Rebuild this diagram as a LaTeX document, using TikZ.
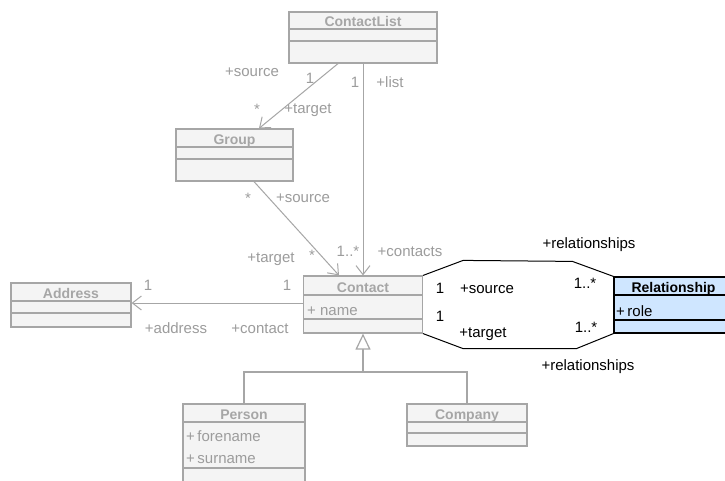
\documentclass[tikz,border=0pt]{standalone}
\usepackage{fontspec}
\setmainfont{Liberation Sans}
\usetikzlibrary{arrows.meta,positioning,calc}
\definecolor{boxfill}{HTML}{F4F4F4}
\definecolor{boxline}{HTML}{A6A6A6}
\definecolor{dimtext}{HTML}{9C9C9C}
\definecolor{relfill}{HTML}{CFE6FF}
\newcommand{\lblfont}{\fontsize{15}{18}\selectfont}
\newcommand{\ttlfont}{\fontsize{14}{16}\selectfont\bfseries}

\begin{document}
\begin{tikzpicture}[x=1pt,y=-1pt,
  classbox/.style={draw=boxline,fill=boxfill,line width=1.2pt,inner sep=0pt},
  sepline/.style={boxline,line width=1.2pt},
  classname/.style={font=\ttlfont,text=boxline,anchor=base,inner sep=0pt},
  attr/.style={font=\lblfont,text=dimtext,anchor=base west,inner sep=0pt},
  lbl/.style={font=\lblfont,text=dimtext,anchor=base,inner sep=0pt},
  blbl/.style={font=\lblfont,text=black,anchor=base,inner sep=0pt},
  assoc/.style={boxline,line width=1pt,-{Straight Barb[length=9pt,width=14pt]}},
  genline/.style={boxline,line width=1.2pt},
  link/.style={black,line width=1pt}]
  \fill[white] (0,0) rectangle (725,480);
  \useasboundingbox (0,0) rectangle (725,480);

  % ContactList
  \node[classbox,minimum width=148pt,minimum height=51pt] (cl) at (363,37.5) {};
  \foreach \y in {29,41} \draw[sepline] (289,\y) -- (437,\y);
  \node[classname] (cltitle) at (363,26) {ContactList};

  % Group
  \node[classbox,minimum width=117pt,minimum height=52pt] (group) at (234.5,155) {};
  \foreach \y in {147,159} \draw[sepline] (176,\y) -- (293,\y);
  \node[classname] (grouptitle) at (234.5,144) {Group};

  % Contact
  \node[classbox,minimum width=119pt,minimum height=57pt] (contact) at (363,304.5) {};
  \foreach \y in {295,319} \draw[sepline] (303.5,\y) -- (422.5,\y);
  \node[classname] (contacttitle) at (363,292) {Contact};
  \node[attr] (contactname) at (307,315) {+ name};

  % Address
  \node[classbox,minimum width=120pt,minimum height=44pt] (address) at (71,305) {};
  \foreach \y in {301,313} \draw[sepline] (11,\y) -- (131,\y);
  \node[classname] (addresstitle) at (71,298) {Address};

  % Relationship (association class, highlighted)
  \node[draw=black,fill=relfill,line width=1.2pt,inner sep=0pt,
        minimum width=119pt,minimum height=56pt] (rel) at (673.5,305) {};
  \foreach \y in {295,320} \draw[black,line width=1.2pt] (614,\y) -- (733,\y);
  \node[classname,text=black] (reltitle) at (673.5,292) {Relationship};
  \node[attr,text=black] (relrole) at (616,316) {+\,role};

  % Person
  \node[classbox,minimum width=122pt,minimum height=78pt] (person) at (244,443) {};
  \foreach \y in {422,468} \draw[sepline] (183,\y) -- (305,\y);
  \node[classname] (persontitle) at (244,419) {Person};
  \node[attr] (forename) at (186,441) {+\,forename};
  \node[attr] (surname) at (186,463) {+\,surname};

  % Company
  \node[classbox,minimum width=120pt,minimum height=42pt] (company) at (467,425) {};
  \foreach \y in {422,433} \draw[sepline] (407,\y) -- (527,\y);
  \node[classname] (companytitle) at (467,419) {Company};

  % associations
  \draw[assoc] ([xshift=-25pt]cl.south) -- ([xshift=24.5pt]group.north);
  \draw[assoc] (cl.south) -- (contact.north);
  \draw[assoc] ([xshift=19.5pt]group.south) -- ([xshift=-24pt]contact.north);
  \draw[assoc] ([yshift=1.5pt]contact.west) -- ([yshift=1.5pt]contact.west -| address.east);

  % generalization
  \coordinate (tee) at (363,372);
  \draw[genline] (person.north) |- (tee) -| (company.north);
  \draw[genline,-{Triangle[length=16pt,width=15pt,fill=white]}] (tee) -- (contact.south);

  % relationship links
  \draw[link] (contact.north east) -- ++(40,-15) -- ([shift={(-41,-15)}]rel.north west) -- (rel.north west);
  \draw[link] (contact.south east) -- ++(40,15) -- ([shift={(-37,15)}]rel.south west) -- (rel.south west);

  % role names and multiplicities
  \node[lbl] (gsrc) at (252,76) {+source};
  \node[lbl] (gone) at (310,83) {1};
  \node[lbl] (gstar) at (257,114) {*};
  \node[lbl] (gtgt) at (308,113) {+target};
  \node[lbl] (lone) at (355,87) {1};
  \node[lbl] (llist) at (390,87) {+list};
  \node[lbl] (cstar) at (248,203) {*};
  \node[lbl] (csrc) at (303,202) {+source};
  \node[lbl] (ctgt) at (271,262) {+target};
  \node[lbl] (cstarb) at (312,260) {*};
  \node[lbl] (cmany) at (348,256) {1..*};
  \node[lbl] (ccontacts) at (410,256) {+contacts};
  \node[lbl] (aone) at (148,290) {1};
  \node[lbl] (cone) at (287,290) {1};
  \node[lbl] (aaddr) at (176,333) {+address};
  \node[lbl] (acontact) at (260,333) {+contact};
  \node[blbl] (rtop) at (589,248) {+relationships};
  \node[blbl] (rsone) at (440,293) {1};
  \node[blbl] (rsrc) at (487,293) {+source};
  \node[blbl] (rsmany) at (585,288) {1..*};
  \node[blbl] (rtone) at (440,321) {1};
  \node[blbl] (rtgt) at (483,337) {+target};
  \node[blbl] (rtmany) at (586,332) {1..*};
  \node[blbl] (rbot) at (588,370) {+relationships};
\end{tikzpicture}
\end{document}
